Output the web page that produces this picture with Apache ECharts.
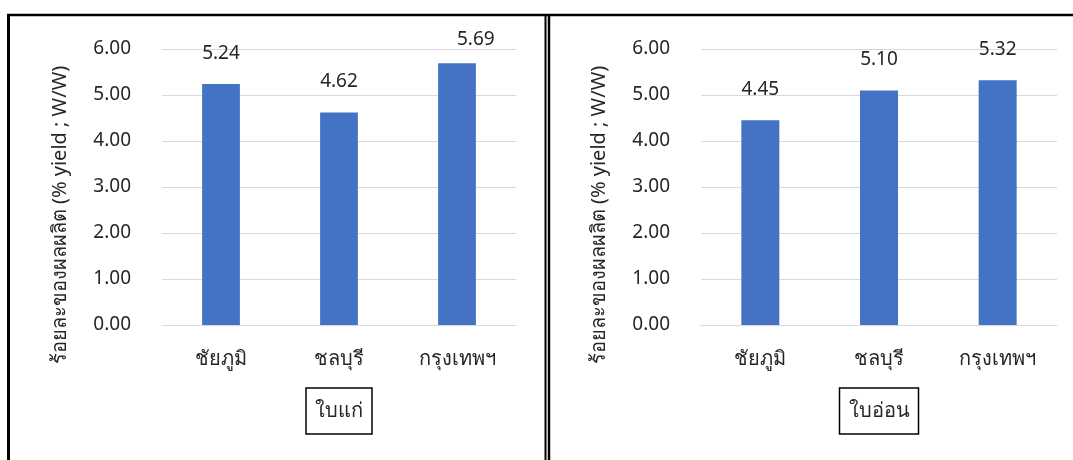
<!DOCTYPE html>
<html>
<head>
<meta charset="utf-8">
<script src="https://cdn.jsdelivr.net/npm/echarts@6/dist/echarts.min.js"></script>
<style>
  html, body { margin: 0; padding: 0; background: #fff; }
  #chart { width: 1073px; height: 460px; }
</style>
</head>
<body>
<div id="chart"></div>
<script>
// Provinces sampled
const categories = ['ชัยภูมิ', 'ชลบุรี', 'กรุงเทพฯ'];
// Yield (% w/w) for mature leaves and young leaves
const matureLeafYield = [5.24, 4.62, 5.69];
const youngLeafYield = [4.45, 5.10, 5.32];
const panelTitles = ['ใบแก่', 'ใบอ่อน'];
const yAxisTitle = 'ร้อยละของผลผลิต (% yield ; W/W)';
const yTicks = { min: 0, max: 6, interval: 1 };

const FONT = "'Noto Sans', 'DejaVu Sans', sans-serif";
const TEXT = '#262626';
const BAR = '#4472C4';
const GRID = '#d9d9d9';

const chart = echarts.init(document.getElementById('chart'), null, { renderer: 'canvas' });

function makeX(gridIndex, title) {
  return {
    type: 'category',
    gridIndex,
    data: categories,
    axisTick: { show: false },
    axisLine: { lineStyle: { color: GRID, width: 1 } },
    axisLabel: { color: TEXT, fontSize: 20, fontFamily: FONT, margin: 24 },
    name: title,
    nameLocation: 'middle',
    nameGap: 63,
    nameTextStyle: {
      color: TEXT, fontSize: 20, fontFamily: FONT,
      borderColor: '#000', borderWidth: 1.5,
      padding: [13, 9, 13, 9]
    }
  };
}

function makeY(gridIndex) {
  return {
    type: 'value',
    gridIndex,
    min: yTicks.min,
    max: yTicks.max,
    interval: yTicks.interval,
    axisLine: { show: false },
    axisTick: { show: false },
    splitLine: { lineStyle: { color: GRID, width: 1 } },
    axisLabel: {
      color: TEXT, fontSize: 19, fontFamily: FONT, margin: 31,
      formatter: v => v.toFixed(2)
    },
    name: yAxisTitle,
    nameLocation: 'middle',
    nameGap: 92,
    nameRotate: 90,
    nameTextStyle: {
      color: TEXT, fontSize: 20, fontFamily: FONT,
      // text sits a little below the middle of the plot
      padding: [0, 56, 0, 0]
    }
  };
}

function makeBar(idx, values) {
  return {
    type: 'bar',
    xAxisIndex: idx,
    yAxisIndex: idx,
    data: values,
    barWidth: '32%',
    itemStyle: { color: BAR },
    label: {
      show: true,
      position: 'top',
      distance: 21,
      color: TEXT,
      fontSize: 19,
      fontFamily: FONT,
      formatter: p => p.value.toFixed(2)
    },
    // keep value labels inside the chart's top edge
    labelLayout: p => {
      const cy = p.labelRect.y + p.labelRect.height / 2;
      return cy < 40 ? { y: 40, verticalAlign: 'middle' } : {};
    }
  };
}

// Panel frames: outer border of the left panel and the double rule between panels
const frame = [
  { type: 'line', shape: { x1: 8.5, y1: 15, x2: 8.5, y2: 460 }, style: { stroke: '#000', lineWidth: 3 } },
  { type: 'line', shape: { x1: 7, y1: 15, x2: 1073, y2: 15 }, style: { stroke: '#000', lineWidth: 2.5 } },
  { type: 'line', shape: { x1: 545.5, y1: 15, x2: 545.5, y2: 460 }, style: { stroke: '#000', lineWidth: 2 } },
  { type: 'line', shape: { x1: 549, y1: 15, x2: 549, y2: 460 }, style: { stroke: '#000', lineWidth: 2.5 } }
];

chart.setOption({
  backgroundColor: '#fff',
  animation: false,
  graphic: frame,
  grid: [
    { left: 162, right: 557, top: 49, bottom: 135 },
    { left: 701, right: 16, top: 49, bottom: 135 }
  ],
  xAxis: [makeX(0, panelTitles[0]), makeX(1, panelTitles[1])],
  yAxis: [makeY(0), makeY(1)],
  series: [makeBar(0, matureLeafYield), makeBar(1, youngLeafYield)]
});
</script>
</body>
</html>
